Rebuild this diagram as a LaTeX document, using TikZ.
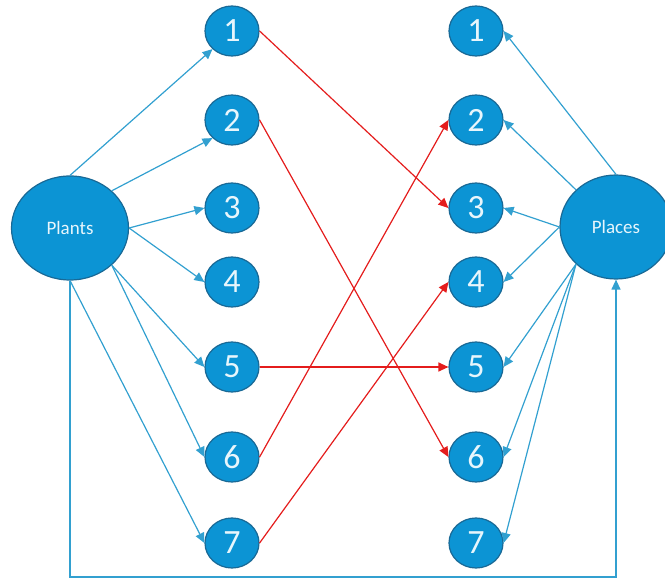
\documentclass[tikz,border=0pt]{standalone}
\usepackage{fontspec}
\setmainfont{Carlito}
\usetikzlibrary{shapes.geometric, arrows.meta}
\definecolor{nodeblue}{RGB}{12,148,212}
\definecolor{rimblue}{RGB}{25,105,150}
\definecolor{lineblue}{RGB}{50,160,208}
\definecolor{linered}{RGB}{228,28,28}
\definecolor{textwhite}{RGB}{232,246,252}

\begin{document}
\begin{tikzpicture}[x = 1pt, y = -1pt,
	num/.style = {draw = rimblue, line width = 1.2pt, ellipse, fill = nodeblue, text = textwhite, minimum width = 54pt, minimum height = 50pt, inner sep = 0pt, font = \fontsize{34}{34}\selectfont},
	big/.style = {draw = rimblue, line width = 1.2pt, ellipse, fill = nodeblue, text = textwhite, inner sep = 0pt, font = \fontsize{19}{19}\selectfont},
	bluearr/.style = {draw = lineblue, line width = 1.2pt, -{Triangle[length = 10pt, width = 9pt]}},
	redarr/.style = {draw = linered, line width = 1.2pt, -{Triangle[length = 10pt, width = 9pt]}}]
						\useasboundingbox (0,0) rectangle (665,580);
						\node[big, minimum width = 117pt, minimum height = 104pt] (plants) at (70,228) {Plants};
						\node[big, minimum width = 112pt, minimum height = 104pt] (places) at (616,227) {Places};
						% left column
						\node[num] (l1) at (232,31) {1};
						\node[num] (l2) at (232,120) {2};
						\node[num] (l3) at (232,208) {3};
						\node[num] (l4) at (232,282) {4};
						\node[num] (l5) at (232,367) {5};
						\node[num] (l6) at (232,457) {6};
						\node[num] (l7) at (232,543) {7};
						% right column
						\node[num] (r1) at (476,31) {1};
						\node[num] (r2) at (476,120) {2};
						\node[num] (r3) at (476,208) {3};
						\node[num] (r4) at (476,282) {4};
						\node[num] (r5) at (476,367) {5};
						\node[num] (r6) at (476,457) {6};
						\node[num] (r7) at (476,543) {7};
						\coordinate (corner) at (616,577);
						% plants side
						\draw[bluearr] (plants.north) -- (l1.south west);
						\draw[bluearr] (plants.north east) -- (l2.south west);
						\draw[bluearr] (plants.east) -- (l3.west);
						\draw[bluearr] (plants.east) -- (l4.west);
						\draw[bluearr] (plants.south east) -- (l5.west);
						\draw[bluearr] (plants.south east) -- (l6.west);
						\draw[bluearr] (plants.south) -- (l7.west);
						% places side
						\draw[bluearr] (places.north) -- (r1.east);
						\draw[bluearr] (places.north west) -- (r2.east);
						\draw[bluearr] (places.west) -- (r3.east);
						\draw[bluearr] (places.west) -- (r4.east);
						\draw[bluearr] (places.south west) -- (r5.east);
						\draw[bluearr] (places.south west) -- (r6.east);
						\draw[bluearr] (places.south west) -- (r7.east);
						\draw[bluearr] (plants.south) |- (corner) -- (places.south);
						% matches
						\draw[redarr] (l1.east) -- (r3.west);
						\draw[redarr] (l2.east) -- (r6.west);
						\draw[redarr] (l5.east) -- (r5.west);
						\draw[redarr] (l6.east) -- (r2.west);
						\draw[redarr] (l7.east) -- (r4.west);
					\end{tikzpicture}
\end{document}
